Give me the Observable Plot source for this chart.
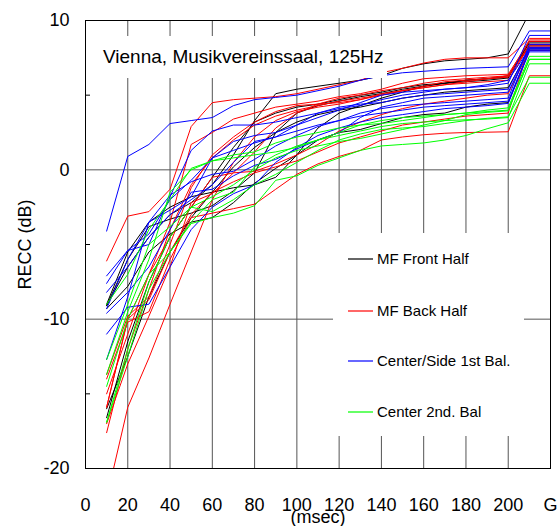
<!DOCTYPE html>
<html>
<head>
<meta charset="utf-8">
<script src="https://cdn.jsdelivr.net/npm/d3@7"></script>
<script src="https://cdn.jsdelivr.net/npm/@observablehq/plot@0.6"></script>
<style>
  html, body { margin: 0; padding: 0; background: #fff; }
  #wrap { position: relative; width: 559px; height: 526px; overflow: hidden; font-family: "Liberation Sans", Arial, sans-serif; }
  #title { position: absolute; left: 98px; top: 36px; width: 289px; height: 42px; line-height: 42px; background: #fff; font-size: 19px; padding-left: 5px; box-sizing: border-box; white-space: nowrap; }
  #legend { position: absolute; left: 333px; top: 233px; width: 191px; height: 203px; background: #fff; }
  #xlabel { position: absolute; left: 268px; width: 100px; top: 508px; text-align: center; font-size: 18px; line-height: 18px; }
  .item { position: absolute; left: 15px; height: 20px; font-size: 15px; line-height: 20px; white-space: nowrap; }
  .item svg { position: absolute; left: 0; top: 0; }
  .item .tx { position: absolute; left: 29px; top: 0; }
</style>
</head>
<body>
<div id="wrap">
  <div id="chart"></div>
  <div id="title"></div>
  <div id="legend"></div>
  <div id="xlabel"></div>
</div>
<script>
// x positions (msec); the last value of each series is "G", drawn at 210 and 220
const times = [10,20,30,40,50,60,70,80,90,100,110,120,130,140,150,160,170,180,190,200];
const xTicks = [0,20,40,60,80,100,120,140,160,180,200,220];
const xTickLabels = ["0","20","40","60","80","100","120","140","160","180","200","G"];
const yTicks = [-20,-10,0,10];
const yMinorTicks = [5,-5,-15];
const gridX = [20,40,60,80,100,120,140,160,180,200];
const gridY = [0,-10];

const titleText = "Vienna, Musikvereinssaal, 125Hz";
const xLabelText = "(msec)";
const yLabelText = "RECC (dB)";
const groupNames = ["MF Front Half","MF Back Half","Center/Side 1st Bal.","Center 2nd. Bal"];
const groupColors = ["#000000","#ff0000","#0000ff","#00ff00"];

// MF Front Half (black)
const front = [
  [-9.1,-6.5,-4.5,-3.0,-2.2,-1.0,1.0,3.3,5.1,5.4,5.6,5.8,6.0,6.3,6.8,7.1,7.3,7.4,7.5,7.76,10.5],
  [-16.6,-11.5,-7.5,-4.5,-2.5,-0.5,1.5,3.2,3.8,4.2,4.4,4.7,5.0,5.2,5.5,5.7,5.8,5.9,6.0,6.15,8.5],
  [-9.3,-7.8,-5.5,-4.3,-3.5,-3.2,-2.2,-0.9,0.1,1.0,2.0,2.5,2.7,3.1,3.5,3.7,3.8,4.2,4.4,4.5,8.0],
  [-9.0,-5.5,-3.5,-2.5,-1.8,-1.5,-1.2,-1.0,-0.5,1.0,2.8,3.8,4.3,4.8,5.2,5.6,5.8,6.0,6.1,6.3,8.3],
  [-9.1,-6.0,-3.8,-3.3,-2.9,-2.4,-1.4,-0.2,2.5,3.8,4.3,4.6,4.9,5.1,5.4,5.6,5.8,6.0,6.1,6.2,8.6],
  [-16.0,-12.5,-8.5,-5.5,-3.2,-1.5,0.2,1.5,2.5,3.2,3.7,4.0,4.2,4.5,4.8,5.0,5.2,5.3,5.4,5.5,8.1]
];
// MF Back Half (red)
const back = [
  [-6.1,-3.1,-2.8,-1.3,2.9,4.5,4.7,4.8,4.9,5.1,5.4,5.7,6.0,6.5,6.8,7.15,7.4,7.5,7.5,7.5,8.8],
  [-15.9,-10.0,-7.0,-3.5,1.7,2.5,3.4,3.8,4.2,4.4,4.6,4.9,5.1,5.4,5.8,6.1,6.2,6.3,6.35,6.4,8.6],
  [-17.6,-12.0,-8.0,-4.0,-1.0,0.8,2.0,3.0,3.6,4.0,4.3,4.6,4.8,5.0,5.3,5.5,5.7,5.9,6.1,6.2,8.4],
  [-22.0,-15.9,-12.6,-9.0,-5.5,-2.0,0.5,2.2,3.3,3.9,4.2,4.4,4.7,5.1,5.3,5.6,5.9,6.0,6.1,6.3,8.2],
  [-14.0,-10.2,-9.5,-6.0,-3.2,-2.9,-2.6,-2.3,-1.3,-0.3,0.4,0.9,1.3,2.0,2.2,2.35,2.45,2.5,2.52,2.55,6.3],
  [-15.9,-10.0,-8.7,-5.5,-3.0,-1.5,-0.8,-0.2,0.2,0.6,1.2,1.8,2.2,2.6,3.0,3.2,3.4,3.6,3.7,3.8,8.2],
  [-13.7,-9.8,-8.5,-5.0,-1.2,1.0,2.2,3.2,3.9,4.3,4.4,4.5,4.7,5.0,5.3,5.5,5.7,5.8,5.9,6.0,8.3],
  [-17.0,-13.0,-9.8,-6.5,-2.2,-1.6,-0.2,1.2,2.8,3.8,4.4,4.8,5.0,5.3,5.5,5.8,6.0,6.1,6.2,6.3,8.7],
  [-15.0,-11.0,-7.0,-4.5,-2.5,-0.5,-0.2,-0.1,0.4,1.0,1.7,2.6,3.2,3.7,4.1,4.4,4.6,4.8,5.0,5.1,8.0]
];
// Center/Side 1st Bal. (blue)
const side = [
  [-4.1,0.9,1.7,3.1,3.3,3.5,4.3,4.7,4.85,5.0,5.3,5.6,6.0,6.3,6.5,6.6,6.7,6.8,6.85,6.9,9.3],
  [-7.1,-5.4,-4.3,-2.0,-0.7,0.8,1.9,2.3,2.5,3.0,3.5,4.0,4.5,5.0,5.2,5.3,5.4,5.5,5.6,5.8,9.0],
  [-7.6,-5.4,-5.0,-1.8,1.3,2.6,3.0,3.0,3.2,3.5,3.8,4.1,4.3,4.7,5.0,5.2,5.4,5.5,5.7,6.0,8.1],
  [-9.3,-6.0,-3.5,-2.7,-1.8,0.8,1.3,1.8,2.2,2.6,3.0,3.3,3.6,3.8,4.0,4.2,4.3,4.4,4.5,4.6,8.0],
  [-9.6,-8.2,-6.5,-4.0,-1.5,-1.3,-0.4,0.3,0.7,1.4,2.0,2.5,3.5,4.2,4.5,4.8,4.9,5.0,5.1,5.2,8.1],
  [-11.0,-9.2,-9.0,-6.5,-4.0,-2.5,-1.6,-1.0,0.5,1.5,2.3,2.8,3.2,3.5,3.7,3.9,4.1,4.2,4.3,4.45,7.9],
  [-12.7,-8.5,-3.5,-1.7,-0.8,-0.3,-0.1,0.7,1.6,2.3,2.9,3.3,3.8,4.1,4.3,4.4,4.5,4.6,4.7,4.8,8.4],
  [-8.2,-6.5,-4.5,-3.0,-2.0,-1.0,0.5,1.9,2.2,3.0,3.8,4.2,4.4,4.5,4.8,5.0,5.1,5.2,5.3,5.4,8.2]
];
// Center 2nd. Bal (green)
const second = [
  [-13.7,-9.5,-6.0,-1.5,0.0,0.6,1.0,1.2,1.8,2.2,2.5,2.8,3.0,3.1,3.3,3.5,3.7,3.8,4.0,4.15,7.6],
  [-16.9,-12.0,-7.5,-4.5,-2.5,-1.8,-1.0,0.0,0.8,1.3,1.6,1.9,2.1,2.4,2.7,3.0,3.3,3.7,3.85,3.95,7.4],
  [-16.9,-12.5,-8.0,-5.5,-3.6,-3.2,-2.9,-2.4,-0.7,-0.4,0.3,0.8,1.3,1.6,1.7,1.8,2.0,2.3,2.75,3.15,5.8],
  [-12.7,-9.0,-5.0,-3.8,-2.5,-2.8,-2.0,-1.0,-0.3,0.5,1.3,2.0,2.4,2.7,2.8,2.9,3.1,3.3,3.45,3.55,6.2],
  [-9.0,-7.0,-4.0,-2.0,0.1,0.6,0.8,1.0,1.2,1.5,2.0,2.5,3.0,3.3,3.5,3.6,3.7,3.8,3.9,4.0,7.4],
  [-14.5,-10.0,-7.0,-5.5,-3.5,-2.0,-1.5,0.2,1.0,1.6,2.0,2.3,2.6,2.9,3.1,3.2,3.3,3.35,3.4,3.5,7.1]
];

const groups = [front, back, side, second];
const gX = [210, 220]; // positions used for the "G" value

function rowsFor(seriesList, gi) {
  const rows = [];
  seriesList.forEach((vals, si) => {
    const id = gi + "-" + si;
    times.forEach((t, i) => rows.push({x: t, y: vals[i], id}));
    const g = vals[vals.length - 1];
    gX.forEach(t => rows.push({x: t, y: g, id}));
  });
  return rows;
}

const lineMarks = groups.map((list, gi) =>
  Plot.line(rowsFor(list, gi), {x: "x", y: "y", z: "id", stroke: groupColors[gi], strokeWidth: 1, clip: true})
);

const chart = Plot.plot({
  width: 559,
  height: 526,
  marginLeft: 85,
  marginRight: 9,
  marginTop: 20,
  marginBottom: 58,
  x: {domain: [0, 220]},
  y: {domain: [-20, 10]},
  style: {fontFamily: "'Liberation Sans', Arial, sans-serif", fontSize: "18px", color: "#000", background: "#fff"},
  marks: [
    Plot.ruleX(gridX, {stroke: "#555", strokeWidth: 1}),
    Plot.ruleY(gridY, {stroke: "#555", strokeWidth: 1}),
    ...lineMarks,
    Plot.frame({stroke: "#000", strokeWidth: 1}),
    Plot.axisX({ticks: xTicks, tickSize: 0, tickPadding: 30, fontSize: 18,
      tickFormat: d => xTickLabels[xTicks.indexOf(d)], label: null}),
    Plot.axisY({ticks: yTicks, tickSize: 0, tickPadding: 16, fontSize: 18,
      tickFormat: d => String(d),
      label: yLabelText, labelAnchor: "center", labelArrow: "none", labelOffset: 67}),
    Plot.axisY({ticks: yMinorTicks, tickSize: 5, dx: 5, tickFormat: () => "", label: null, stroke: "#000"})
  ]
});
document.getElementById("chart").appendChild(chart);

document.getElementById("title").textContent = titleText;
document.getElementById("xlabel").textContent = xLabelText;

const svgNS = "http://www.w3.org/2000/svg";
const legend = document.getElementById("legend");
const legendTops = [16, 68, 118, 169];
groupNames.forEach((name, i) => {
  const it = document.createElement("div");
  it.className = "item";
  it.style.top = legendTops[i] + "px";
  const sw = document.createElementNS(svgNS, "svg");
  sw.setAttribute("width", "26");
  sw.setAttribute("height", "20");
  const ln = document.createElementNS(svgNS, "line");
  ln.setAttribute("x1", "0");
  ln.setAttribute("x2", "25");
  ln.setAttribute("y1", "10");
  ln.setAttribute("y2", "10");
  ln.setAttribute("stroke", groupColors[i]);
  ln.setAttribute("stroke-width", "1.2");
  sw.appendChild(ln);
  const tx = document.createElement("div");
  tx.className = "tx";
  tx.textContent = name;
  it.appendChild(sw);
  it.appendChild(tx);
  legend.appendChild(it);
});
</script>
</body>
</html>
